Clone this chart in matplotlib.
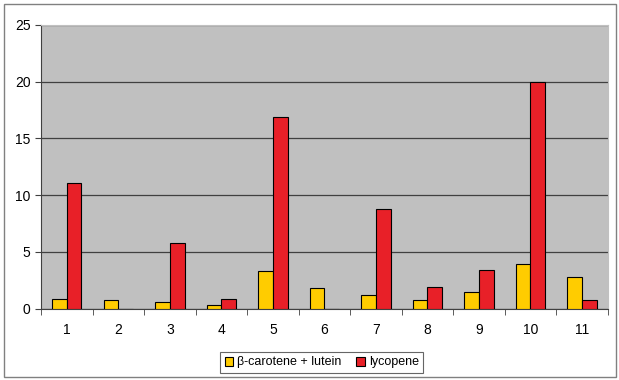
import numpy as np
import matplotlib
matplotlib.use('Agg')
import matplotlib.pyplot as plt
from matplotlib.patches import Rectangle

plt.rcParams['font.family'] = ['Liberation Sans', 'DejaVu Sans']

samples = ['1', '2', '3', '4', '5', '6', '7', '8', '9', '10', '11']
carotene_lutein = [0.88, 0.77, 0.56, 0.3, 3.29, 1.82, 1.2, 0.79, 1.44, 3.93, 2.79]
lycopene = [11.06, 0, 5.8, 0.83, 16.9, 0, 8.75, 1.94, 3.4, 19.96, 0.77]

fig = plt.figure(figsize=(6.19, 3.80), dpi=100)
ax = fig.add_axes([41/619, 1 - 308.7/380, (607.7 - 41)/619, (308.7 - 25)/380])

x = np.arange(len(samples))
w = 1 / 3.5
ax.bar(x - w/2, carotene_lutein, w, color='#ffcc00', edgecolor='black', linewidth=0.8,
       label='\u03b2-carotene + lutein', zorder=3)
ax.bar(x + w/2, lycopene, w, color='#e82028', edgecolor='black', linewidth=0.8,
       label='lycopene', zorder=3)

ax.set_facecolor('#c0c0c0')
ax.set_xlim(-0.5, len(samples) - 0.5)
ax.set_ylim(0, 25)
ax.set_yticks([0, 5, 10, 15, 20, 25])
ax.grid(axis='y', color='#404040', linewidth=0.9, zorder=1)

ax.set_xticks(x)
ax.set_xticklabels(samples)
ax.tick_params(axis='x', length=0, pad=10, labelsize=10)
ax.set_xticks(np.arange(-0.5, len(samples)), minor=True)
ax.tick_params(axis='x', which='minor', length=4, direction='out', color='#404040')
ax.tick_params(axis='y', length=4, direction='out', color='#404040', labelsize=10)

for s in ['top', 'right']:
    ax.spines[s].set_color('#c0c0c0')
for s in ['left', 'bottom']:
    ax.spines[s].set_color('#404040')

leg = fig.legend(loc='center', bbox_to_anchor=(321.7/619, 1 - 362.5/380), ncol=2,
                 fontsize=9, frameon=True, fancybox=False, handlelength=0.7,
                 handleheight=0.7, handletextpad=0.3, columnspacing=1.2,
                 borderpad=0.35)
leg.get_frame().set_edgecolor('#404040')
leg.get_frame().set_linewidth(0.8)

fig.patches.append(Rectangle((4/619, 1 - 377/380), 612/619, 373.5/380,
                             transform=fig.transFigure, fill=False,
                             edgecolor='#808080', linewidth=1.0))

fig.savefig('out.png', dpi=100)
